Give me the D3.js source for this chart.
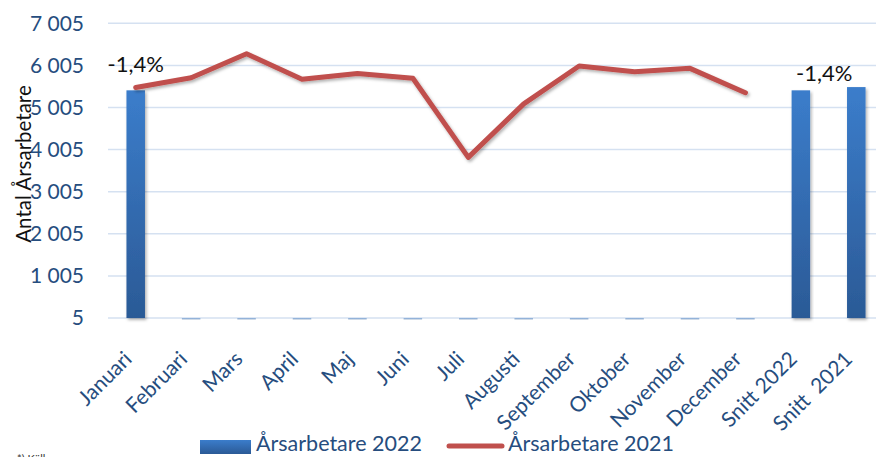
<!DOCTYPE html>
<html>
<head>
<meta charset="utf-8">
<script src="https://cdn.jsdelivr.net/npm/d3@7"></script>
<style>
    body { margin: 0; background: #fff; }
    #chart-area { width: 876px; height: 457px; overflow: hidden; }
    text { font-family: Lato, "Open Sans", sans-serif; }
</style>
</head>
<body>
<div id="chart-area"></div>
<script>
// Årsarbetare per månad, 2022 mot 2021

const categories = ["Januari", "Februari", "Mars", "April", "Maj", "Juni", "Juli",
    "Augusti", "September", "Oktober", "November", "December", "Snitt 2022", "Snitt  2021"];

// staplar 2022 (bara januari + snitt har värden)
const values2022 = [5413, 0, 0, 0, 0, 0, 0, 0, 0, 0, 0, 0, 5413, 5490];

// linje 2021, slutar i december
const values2021 = [5480, 5710, 6280, 5675, 5815, 5700, 3820, 5090, 5990, 5855, 5935, 5355, null, null];

const yTicks = [5, 1005, 2005, 3005, 4005, 5005, 6005, 7005];

const changeLabels = [
    {category: "Januari", text: "-1,4%"},
    {category: "Snitt 2022", text: "-1,4%"}
];

const seriesNames = ["Årsarbetare 2022", "Årsarbetare 2021"];

class BarLineChart {

    constructor(parentElement){
        this.parentElement = parentElement;
        this.initVis();
    }

    initVis(){
        let vis = this;

        vis.width = 876;
        vis.height = 457;
        vis.margin = {top: 23.3, right: -8, bottom: 139, left: 108};

        vis.svg = d3.select("#" + vis.parentElement).append("svg")
            .attr("width", vis.width)
            .attr("height", vis.height);

        let defs = vis.svg.append("defs");

        let grad = defs.append("linearGradient")
            .attr("id", "barGrad")
            .attr("x1", 0).attr("y1", 0).attr("x2", 0).attr("y2", 1);
        grad.append("stop").attr("offset", "0%").attr("stop-color", "#3b7dcb");
        grad.append("stop").attr("offset", "100%").attr("stop-color", "#2b5a96");

        let shadow = defs.append("filter")
            .attr("id", "shadow")
            .attr("x", "-20%").attr("y", "-20%").attr("width", "140%").attr("height", "140%");
        shadow.append("feDropShadow")
            .attr("dx", 1.5).attr("dy", 2)
            .attr("stdDeviation", 1.5)
            .attr("flood-color", "#000")
            .attr("flood-opacity", 0.3);

        // scales
        vis.x = d3.scaleBand()
            .domain(categories)
            .range([vis.margin.left, vis.width - vis.margin.right])
            .paddingInner(0.666)
            .paddingOuter(0.333);

        vis.y = d3.scaleLinear()
            .domain([5, 7005])
            .range([vis.height - vis.margin.bottom, vis.margin.top]);

        vis.updateVis();
    }

    updateVis(){
        let vis = this;
        let fmt = d3.formatLocale({decimal: ",", thousands: " ", grouping: [3], currency: ["", " kr"]}).format(",d");

        // gridlines
        vis.svg.append("g")
            .selectAll("line")
            .data(yTicks)
            .enter()
            .append("line")
            .attr("x1", vis.margin.left)
            .attr("x2", vis.width)
            .attr("y1", d => vis.y(d))
            .attr("y2", d => vis.y(d))
            .attr("stroke", "#d5e1f1")
            .attr("stroke-width", 1.5);

        // y axis
        let yAxis = d3.axisLeft(vis.y)
            .tickValues(yTicks)
            .tickFormat(fmt)
            .tickSize(0)
            .tickPadding(24);

        let yG = vis.svg.append("g")
            .attr("transform", "translate(" + vis.margin.left + ",0)")
            .call(yAxis);
        yG.select(".domain").remove();
        yG.selectAll("text")
            .attr("fill", "#264d7e")
            .style("font-size", "21px");

        vis.svg.append("text")
            .text("Antal Årsarbetare")
            .attr("transform", "translate(31," + 164 + ") rotate(-90)")
            .attr("text-anchor", "middle")
            .attr("fill", "#111")
            .style("font-size", "20.5px");

        // bars 2022
        let base = vis.y(5);
        vis.svg.append("g")
            .selectAll("rect")
            .data(categories.map((c, i) => ({category: c, value: values2022[i]})))
            .enter()
            .append("rect")
            .attr("x", d => vis.x(d.category))
            .attr("width", vis.x.bandwidth())
            .attr("y", d => Math.min(vis.y(d.value), base))
            .attr("height", d => Math.max(1.5, Math.abs(base - vis.y(d.value))))
            .attr("fill", "url(#barGrad)")
            .attr("opacity", d => d.value > 5 ? 1 : 0.45)
            .attr("filter", d => d.value > 5 ? "url(#shadow)" : null);

        // line 2021
        let lineData = categories.map((c, i) => ({category: c, value: values2021[i]}))
            .filter(d => d.value !== null);

        let line = d3.line()
            .x(d => vis.x(d.category) + vis.x.bandwidth() / 2)
            .y(d => vis.y(d.value));

        vis.svg.append("path")
            .datum(lineData)
            .attr("d", line)
            .attr("fill", "none")
            .attr("stroke", "#c0504d")
            .attr("stroke-width", 5)
            .attr("stroke-linejoin", "round")
            .attr("stroke-linecap", "round")
            .attr("filter", "url(#shadow)");

        // change labels
        let first = changeLabels[0];
        let firstIdx = categories.indexOf(first.category);
        vis.svg.append("text")
            .text(first.text)
            .attr("x", vis.x(first.category) + vis.x.bandwidth() / 2)
            .attr("y", vis.y(values2022[firstIdx]) - 18)
            .attr("text-anchor", "middle")
            .attr("fill", "#111")
            .style("font-size", "22px");

        let second = changeLabels[1];
        let secondIdx = categories.indexOf(second.category);
        vis.svg.append("text")
            .text(second.text)
            .attr("x", vis.x(second.category) + vis.x.bandwidth() / 2 + vis.x.step() * 0.42)
            .attr("y", vis.y(values2022[secondIdx]) - 9)
            .attr("text-anchor", "middle")
            .attr("fill", "#111")
            .style("font-size", "22px");

        // x labels, rotated
        vis.svg.append("g")
            .selectAll("text")
            .data(categories)
            .enter()
            .append("text")
            .text(d => d)
            .attr("transform", d => "translate(" + (vis.x(d) + vis.x.bandwidth() / 2 - 13) + "," + (base + 32) + ") rotate(-45)")
            .attr("text-anchor", "end")
            .attr("dy", "0.7em")
            .attr("fill", "#264d7e")
            .style("font-size", "21px")
            .style("white-space", "pre");

        // legend
        let legend = vis.svg.append("g");
        legend.append("rect")
            .attr("x", 200).attr("y", 440)
            .attr("width", 51).attr("height", 14)
            .attr("fill", "url(#barGrad)");
        legend.append("text")
            .text(seriesNames[0])
            .attr("x", 256).attr("y", 451)
            .attr("fill", "#264d7e")
            .style("font-size", "21.5px");
        legend.append("line")
            .attr("x1", 449).attr("x2", 502)
            .attr("y1", 446).attr("y2", 446)
            .attr("stroke", "#c0504d")
            .attr("stroke-width", 5)
            .attr("stroke-linecap", "round");
        legend.append("text")
            .text(seriesNames[1])
            .attr("x", 508).attr("y", 451)
            .attr("fill", "#264d7e")
            .style("font-size", "21.5px");

        // footnote, mostly cut off at the bottom (as in the source)
        vis.svg.append("text")
            .text("*) Källa")
            .attr("x", 17).attr("y", 463)
            .attr("fill", "#333")
            .style("font-size", "11px");
    }
}

new BarLineChart("chart-area");
</script>
</body>
</html>
